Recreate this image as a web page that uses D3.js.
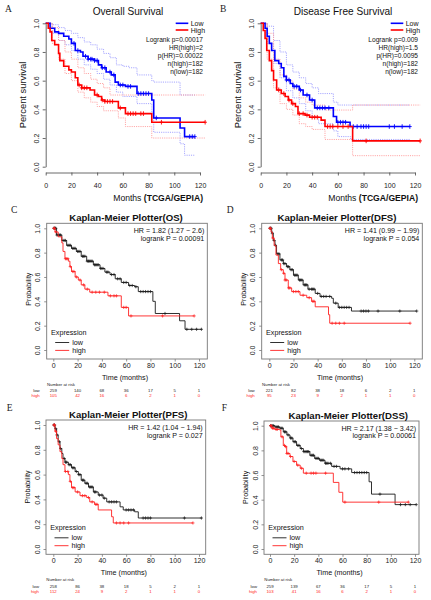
<!DOCTYPE html>
<html><head><meta charset="utf-8">
<script src="https://cdn.jsdelivr.net/npm/d3@7"></script>
<style>body{margin:0;background:#fff}svg{display:block;font-family:"Liberation Sans",Arial,sans-serif}</style>
</head><body><svg id="c" width="431" height="600"></svg>
<script>
// ---------- shared tick labels ----------
const monthTicks = [0, 20, 40, 60, 80, 100, 120];
const probTicks = [0, 0.2, 0.4, 0.6, 0.8, 1.0];

// ---------- A: GEPIA Overall Survival ----------
const osLowT = [0, 3.4, 7, 10, 14, 18, 20, 23, 27, 29, 33, 38, 41, 43.5, 47, 51, 54, 56.5, 62, 71, 82.5, 84, 104.5, 108, 116];
const osLowS = [1, 0.965, 0.94, 0.93, 0.91, 0.89, 0.86, 0.81, 0.80, 0.77, 0.75, 0.74, 0.71, 0.69, 0.66, 0.64, 0.59, 0.57, 0.56, 0.51, 0.465, 0.34, 0.27, 0.21, 0.21];
const osLowCens = [22, 25, 31, 33, 35, 36, 38, 40, 44, 46, 50, 53, 58, 60, 64, 66, 72, 74, 76, 78, 80, 86, 112, 114, 116];
const osHighT = [0, 2, 3.4, 4.7, 7, 10, 11, 14, 18, 20, 23, 25, 28, 34.5, 38, 41, 43.5, 46, 56.5, 62, 82.5, 124];
const osHighS = [1, 0.965, 0.94, 0.88, 0.85, 0.79, 0.74, 0.70, 0.675, 0.66, 0.62, 0.57, 0.55, 0.535, 0.50, 0.49, 0.465, 0.455, 0.41, 0.37, 0.31, 0.31];
const osHighCens = [26, 28, 30, 32, 40, 44, 46, 48, 50, 52, 58, 64, 66, 68, 70, 74, 76, 90, 124];
const osLowUpT = [0, 5, 10, 15, 20, 25, 30, 35, 40, 45, 50, 55, 60, 65, 71, 82.5, 84, 104.5, 116];
const osLowUpS = [1, 0.99, 0.97, 0.95, 0.93, 0.90, 0.87, 0.85, 0.82, 0.79, 0.76, 0.71, 0.70, 0.69, 0.64, 0.60, 0.59, 0.50, 0.50];
const osLowLoT = [0, 5, 10, 15, 20, 25, 30, 35, 40, 45, 50, 55, 60, 71, 82.5, 84, 104.5, 108, 116];
const osLowLoS = [1, 0.93, 0.88, 0.85, 0.81, 0.75, 0.71, 0.68, 0.65, 0.61, 0.57, 0.52, 0.49, 0.44, 0.38, 0.24, 0.16, 0.08, 0.08];
const osHighUpT = [0, 5, 10, 15, 20, 25, 30, 35, 40, 45, 50, 124];
const osHighUpS = [1, 0.97, 0.88, 0.80, 0.75, 0.69, 0.65, 0.61, 0.58, 0.55, 0.50, 0.50];
const osHighLoT = [0, 5, 10, 15, 20, 25, 30, 35, 40, 45, 56.5, 62, 82.5, 124];
const osHighLoS = [1, 0.86, 0.75, 0.65, 0.60, 0.52, 0.48, 0.45, 0.42, 0.39, 0.34, 0.28, 0.20, 0.20];

// ---------- B: GEPIA Disease Free Survival ----------
const dfsLowT = [0, 3.4, 5, 6.7, 8.5, 11, 14, 16, 18, 20, 23, 25, 30, 33, 38, 42, 56.5, 59, 69.5, 116];
const dfsLowS = [1, 0.965, 0.91, 0.86, 0.81, 0.74, 0.72, 0.69, 0.63, 0.605, 0.58, 0.56, 0.535, 0.50, 0.465, 0.41, 0.35, 0.31, 0.28, 0.28];
const dfsLowCens = [20, 22, 26, 28, 31, 36, 40, 44, 46, 48, 50, 53, 60, 62, 64, 66, 72, 75, 78, 80, 82, 84, 100, 104, 110, 116];
const dfsHighT = [0, 2, 3.4, 4.7, 6.7, 8.5, 10, 12.4, 16, 19, 21.5, 24, 27, 29, 34.5, 38, 47, 50, 71.5, 124];
const dfsHighS = [1, 0.95, 0.895, 0.81, 0.74, 0.67, 0.605, 0.535, 0.51, 0.49, 0.465, 0.44, 0.42, 0.37, 0.36, 0.345, 0.325, 0.28, 0.18, 0.18];
const dfsHighCens = [14, 18, 22, 25, 30, 33, 36, 40, 42, 44, 52, 54, 56, 60, 64, 68, 82, 124];
const dfsLowUpT = [0, 5, 10, 15, 20, 25, 30, 35, 40, 45, 56.5, 60, 70, 116];
const dfsLowUpS = [1, 0.98, 0.88, 0.80, 0.71, 0.66, 0.62, 0.58, 0.55, 0.51, 0.45, 0.43, 0.43, 0.43];
const dfsLowLoT = [0, 5, 10, 15, 20, 25, 30, 35, 40, 45, 56.5, 60, 70, 116];
const dfsLowLoS = [1, 0.86, 0.72, 0.62, 0.53, 0.48, 0.44, 0.39, 0.35, 0.30, 0.25, 0.21, 0.19, 0.19];
const dfsHighUpT = [0, 5, 10, 15, 20, 25, 30, 35, 40, 50, 71.5, 124];
const dfsHighUpS = [1, 0.93, 0.75, 0.64, 0.60, 0.54, 0.48, 0.45, 0.43, 0.395, 0.43, 0.43];
const dfsHighLoT = [0, 5, 10, 15, 20, 25, 30, 35, 40, 50, 71.5, 124];
const dfsHighLoS = [1, 0.75, 0.55, 0.44, 0.40, 0.36, 0.30, 0.28, 0.26, 0.19, 0.077, 0.077];

// ---------- C: KM Plotter OS ----------
const kmOsLowT = [0, 2.7, 7, 11, 15, 19, 23, 27.5, 33, 38.5, 42.5, 46.7, 51, 56, 62, 67, 70, 82, 84, 104, 108.5, 122];
const kmOsLowS = [1, 0.945, 0.90, 0.86, 0.835, 0.81, 0.77, 0.73, 0.70, 0.67, 0.64, 0.62, 0.585, 0.555, 0.53, 0.52, 0.48, 0.40, 0.30, 0.24, 0.17, 0.17];
const kmOsLowCens = [0.5, 1, 1.5, 2, 3, 4, 5, 6, 8, 9, 10, 12, 13, 14, 16, 17, 18, 20, 21, 22, 24, 25, 26, 28, 29, 30, 31, 32, 34, 35, 36, 37, 39, 40, 41, 44, 45, 48, 50, 53, 55, 58, 60, 63, 65, 68, 72, 74, 76, 78, 80, 92, 110, 114, 118, 122];
const kmOsHighT = [0, 1.4, 4, 7, 8, 9.6, 12.4, 13.7, 15, 18, 20.6, 23, 26, 30, 45, 56, 62, 116];
const kmOsHighS = [1, 0.97, 0.93, 0.88, 0.81, 0.75, 0.73, 0.685, 0.645, 0.60, 0.575, 0.535, 0.50, 0.475, 0.445, 0.35, 0.28, 0.28];
const kmOsHighCens = [0.5, 1, 2, 10, 11, 12, 14, 16, 17, 19, 22, 25, 28, 32, 35, 38, 42, 47, 50, 52, 58, 60, 64, 90, 116];
const riskOsLow = [259, 140, 68, 36, 17, 5, 1];
const riskOsHigh = [105, 42, 16, 6, 2, 1, 0];

// ---------- D: KM Plotter DFS ----------
const kmDfsLowT = [0, 2, 3.3, 4.7, 6, 8.8, 11.6, 14.3, 17, 20, 24, 28, 32, 38, 42, 51.6, 53, 57, 68, 122];
const kmDfsLowS = [1, 0.96, 0.90, 0.86, 0.79, 0.74, 0.71, 0.685, 0.66, 0.615, 0.575, 0.535, 0.50, 0.465, 0.44, 0.425, 0.385, 0.35, 0.32, 0.32];
const kmDfsLowCens = [0.5, 1, 1.5, 2.5, 4, 5, 7, 8, 10, 11, 12, 13, 15, 16, 18, 19, 21, 22, 23, 25, 26, 27, 29, 30, 31, 33, 35, 36, 37, 40, 43, 45, 47, 50, 55, 58, 60, 62, 64, 66, 76, 78, 80, 82, 90, 108, 122];
const kmDfsHighT = [0, 1.4, 2.5, 4, 5.5, 7.5, 9.4, 11.6, 13, 15.7, 18.5, 25.4, 31, 35, 38, 49, 50, 116.5];
const kmDfsHighS = [1, 0.97, 0.92, 0.86, 0.78, 0.71, 0.66, 0.63, 0.575, 0.51, 0.48, 0.45, 0.43, 0.40, 0.355, 0.29, 0.22, 0.22];
const kmDfsHighCens = [0.5, 1, 3, 10, 12, 13, 14, 16, 17, 20, 22, 24, 28, 33, 36, 37, 52, 55, 58, 62, 116.5];
const riskDfsLow = [221, 82, 38, 18, 6, 2, 1];
const riskDfsHigh = [95, 23, 9, 2, 1, 1, 0];

// ---------- E: KM Plotter PFS ----------
const kmPfsLowT = [0, 1.4, 2.7, 4, 5.5, 7, 8, 9.6, 12.4, 15, 18, 20.6, 23, 26, 29, 33, 37, 41, 44, 55, 57.6, 67, 70, 122];
const kmPfsLowS = [1, 0.97, 0.92, 0.865, 0.81, 0.77, 0.73, 0.70, 0.68, 0.655, 0.625, 0.60, 0.555, 0.53, 0.50, 0.46, 0.435, 0.41, 0.38, 0.34, 0.315, 0.30, 0.25, 0.25];
const kmPfsLowCens = [0.5, 1, 2, 3, 5, 6, 9, 10, 11, 13, 14, 16, 17, 19, 21, 22, 24, 25, 27, 28, 30, 31, 32, 34, 35, 38, 40, 42, 46, 48, 50, 52, 60, 62, 64, 66, 74, 76, 78, 80, 108, 122];
const kmPfsHighT = [0, 1.4, 2.7, 4, 5.5, 7, 8, 9.6, 12.4, 13.7, 15, 18, 22, 27.5, 30, 34, 37, 48, 49.4, 115];
const kmPfsHighS = [1, 0.95, 0.89, 0.84, 0.785, 0.73, 0.68, 0.625, 0.60, 0.545, 0.495, 0.46, 0.43, 0.415, 0.38, 0.36, 0.315, 0.26, 0.21, 0.21];
const kmPfsHighCens = [0.5, 1, 2, 10, 12, 14, 16, 17, 20, 24, 26, 29, 32, 35, 36, 52, 55, 58, 62, 115];
const riskPfsLow = [258, 86, 38, 18, 5, 2, 1];
const riskPfsHigh = [112, 24, 9, 2, 1, 1, 0];

// ---------- F: KM Plotter DSS ----------
const kmDssLowT = [0, 4, 8, 11, 14, 16.5, 19, 22, 25, 27.6, 33, 37, 41, 45.5, 51, 58, 67.6, 82, 84, 103.5, 121];
const kmDssLowS = [1, 0.99, 0.98, 0.95, 0.925, 0.90, 0.87, 0.84, 0.815, 0.79, 0.76, 0.735, 0.72, 0.695, 0.67, 0.65, 0.62, 0.545, 0.445, 0.36, 0.36];
const kmDssLowCens = [0.5, 1, 2, 3, 5, 6, 7, 9, 10, 12, 13, 15, 17, 18, 20, 21, 23, 24, 26, 28, 29, 30, 31, 32, 34, 35, 36, 38, 39, 40, 42, 43, 44, 46, 47, 48, 50, 53, 55, 60, 62, 65, 70, 72, 74, 76, 78, 80, 91, 108, 112, 116, 121];
const kmDssHighT = [0, 1.4, 4, 8, 9, 11, 12.4, 13.8, 16.5, 19, 22, 25, 27.6, 52.4, 57, 60.2, 114.5];
const kmDssHighS = [1, 0.98, 0.97, 0.965, 0.91, 0.84, 0.83, 0.775, 0.75, 0.71, 0.68, 0.655, 0.615, 0.54, 0.46, 0.38, 0.38];
const kmDssHighCens = [0.5, 1, 2, 3, 5, 6, 10, 12, 13, 14, 15, 17, 20, 23, 26, 30, 34, 36, 38, 46, 62, 90, 114.5];
const riskDssLow = [259, 139, 67, 36, 17, 5, 1];
const riskDssHigh = [103, 41, 16, 6, 2, 1, 0];

// ---------- drawing ----------
const svg = d3.select("#c");
const BLUE = "#0000ff", RED = "#ff0000";

function survAt(t, s, time) {
  let v = s[0];
  for (let i = 0; i < t.length; i++) if (t[i] <= time) v = s[i];
  return v;
}

function panelLetter(ch, x, y) {
  svg.append("text").attr("x", x).attr("y", y).text(ch)
    .attr("font-family", "'Liberation Serif','DejaVu Serif',serif").attr("font-size", 9.5).attr("fill", "#222");
}

function gepia(p) {
  const g = svg.append("g");
  const x = d3.scaleLinear().domain([0, 120]).range([p.x0, p.x1]);
  const y = d3.scaleLinear().domain([0, 1]).range([p.y0, p.y1]);
  const line = d3.line().x(d => x(d[0])).y(d => y(d[1])).curve(d3.curveStepAfter);
  p.bands.forEach(b => g.append("path").attr("d", line(d3.zip(b[0], b[1])))
    .attr("fill", "none").attr("stroke", b[2]).attr("stroke-width", 0.9).attr("stroke-dasharray", "1.1,1.1"));
  p.curves.forEach(c => {
    g.append("path").attr("d", line(d3.zip(c.t, c.s))).attr("fill", "none").attr("stroke", c.color).attr("stroke-width", 1.6);
    g.append("path").attr("d", c.cens.map(ct => {
      const px = x(ct), py = y(survAt(c.t, c.s, ct));
      return `M${px},${py - 2.3}v4.6M${px - 1.8},${py}h3.6`;
    }).join("")).attr("fill", "none").attr("stroke", c.color).attr("stroke-width", 0.9);
  });
  // axes
  const ya = g.append("g").attr("transform", `translate(${p.x0},0)`)
    .call(d3.axisLeft(y).tickValues(probTicks).tickSize(3).tickSizeOuter(0).tickFormat(d3.format(".1f")));
  ya.selectAll("text").attr("x", null).attr("dy", null).attr("text-anchor", "middle")
    .attr("transform", "translate(-6.7,0) rotate(-90)");
  const xa = g.append("g").attr("transform", `translate(0,${p.axY})`)
    .call(d3.axisBottom(x).tickValues(monthTicks).tickSize(3).tickSizeOuter(0));
  xa.selectAll("text").attr("dy", null).attr("y", 15);
  [ya, xa].forEach(a => {
    a.attr("font-family", null).attr("font-size", 7);
    a.selectAll(".domain,.tick line").attr("stroke", "#444").attr("stroke-width", 0.8);
    a.selectAll("text").attr("fill", "#222");
  });
  g.append("text").attr("x", p.titleX).attr("y", 15).attr("text-anchor", "middle")
    .attr("font-size", 10.1).attr("fill", "#111").text(p.title);
  g.append("text").attr("transform", `translate(${p.x0 - 20.2},95) rotate(-90)`).attr("text-anchor", "middle")
    .attr("font-size", 9.4).attr("fill", "#111").text("Percent survival");
  const xl = g.append("text").attr("x", p.x1 + 3).attr("y", 201).attr("text-anchor", "end").attr("font-size", 8.6).attr("fill", "#111");
  xl.append("tspan").text("Months  ");
  xl.append("tspan").attr("font-weight", "bold").text("(TCGA/GEPIA)");
  // legend
  const leg = [["Low", BLUE, 23.3], ["High", RED, 30]];
  leg.forEach(l => {
    g.append("line").attr("x1", p.x1 - 24.3).attr("x2", p.x1 - 11.7).attr("y1", l[2]).attr("y2", l[2])
      .attr("stroke", l[1]).attr("stroke-width", 1.6);
    g.append("text").attr("x", p.x1 - 9.3).attr("y", l[2] + 2.6).attr("font-size", 7).attr("fill", "#111").text(l[0]);
  });
  p.stats.forEach((s, i) => g.append("text").attr("x", p.x1 + 3).attr("y", 42 + 7.9 * i).attr("text-anchor", "end")
    .attr("font-size", 6.6).attr("fill", "#111").text(s));
}

function km(p) {
  const g = svg.append("g");
  const x = d3.scaleLinear().domain([0, 120]).range([p.x0, p.x1]);
  const y = d3.scaleLinear().domain([0, 1]).range([p.y0, p.y1]);
  const line = d3.line().x(d => x(d[0])).y(d => y(d[1])).curve(d3.curveStepAfter);
  const cols = { low: "#1a1a1a", high: "#ff2020" };
  [["low", p.low], ["high", p.high]].forEach(([k, c]) => {
    g.append("path").attr("d", line(d3.zip(c[0], c[1]))).attr("fill", "none").attr("stroke", cols[k]).attr("stroke-width", 0.9);
    g.append("path").attr("d", c[2].map(ct => {
      const px = x(ct), py = y(survAt(c[0], c[1], ct));
      return `M${px},${py - 1.6}v3.2M${px - 1.6},${py}h3.2`;
    }).join("")).attr("fill", "none").attr("stroke", cols[k]).attr("stroke-width", 0.7);
  });
  g.append("rect").attr("x", p.bx0).attr("y", p.by0).attr("width", p.bx1 - p.bx0).attr("height", p.by1 - p.by0)
    .attr("fill", "none").attr("stroke", "#777").attr("stroke-width", 0.9);
  const ya = g.append("g").attr("transform", `translate(${p.bx0},0)`)
    .call(d3.axisLeft(y).tickValues(probTicks).tickSize(2.5).tickFormat(d3.format(".1f")));
  ya.selectAll("text").attr("x", null).attr("dy", null).attr("text-anchor", "middle")
    .attr("transform", "translate(-6.4,0) rotate(-90)");
  const xa = g.append("g").attr("transform", `translate(0,${p.by1})`)
    .call(d3.axisBottom(x).tickValues(monthTicks).tickSize(2.5));
  xa.selectAll("text").attr("dy", null).attr("y", 8.8);
  [ya, xa].forEach(a => {
    a.attr("font-family", null).attr("font-size", 7);
    a.select(".domain").remove();
    a.selectAll(".tick line").attr("stroke", "#777").attr("stroke-width", 0.8);
    a.selectAll("text").attr("fill", "#222");
  });
  g.append("text").attr("x", p.titleX).attr("y", p.by0 - 2.5).attr("text-anchor", "middle")
    .attr("font-size", 9.6).attr("font-weight", "bold").attr("fill", "#111").text(p.title);
  g.append("text").attr("x", p.bx1 - 3).attr("y", p.y1 + 4.8).attr("text-anchor", "end").attr("font-size", 7.1).attr("fill", "#111").text(p.hr);
  g.append("text").attr("x", p.bx1 - 3).attr("y", p.y1 + 12.6).attr("text-anchor", "end").attr("font-size", 7.1).attr("fill", "#111").text(p.lr);
  g.append("text").attr("transform", `translate(${p.bx0 - 16},${(p.y0 + p.y1) / 2}) rotate(-90)`).attr("text-anchor", "middle")
    .attr("font-size", 7.1).attr("fill", "#111").text("Probability");
  g.append("text").attr("x", (p.bx0 + p.bx1) / 2 - 2).attr("y", p.by1 + 20.8).attr("text-anchor", "middle")
    .attr("font-size", 7.2).attr("fill", "#111").text("Time (months)");
  // legend
  g.append("text").attr("x", p.bx0 + 4.3).attr("y", p.by1 - 24.5).attr("font-size", 7.2).attr("fill", "#111").text("Expression");
  [["low", cols.low, 16.5], ["high", cols.high, 8.6]].forEach(l => {
    g.append("line").attr("x1", p.bx0 + 8.5).attr("x2", p.bx0 + 22.5).attr("y1", p.by1 - l[2]).attr("y2", p.by1 - l[2])
      .attr("stroke", l[1]).attr("stroke-width", 0.9);
    g.append("text").attr("x", p.bx0 + 25.5).attr("y", p.by1 - l[2] + 2.5).attr("font-size", 7.2).attr("fill", "#111").text(l[0]);
  });
  // number at risk
  g.append("text").attr("x", p.bx0 + 0.3).attr("y", p.by1 + 26.8).attr("font-size", 4.3).attr("fill", "#222").text("Number at risk");
  [["low", p.riskLow, "#222", 33.2], ["high", p.riskHigh, "#ff2020", 38.4]].forEach(r => {
    g.append("text").attr("x", p.bx0 - 7).attr("y", p.by1 + r[3]).attr("text-anchor", "end").attr("font-size", 4.3).attr("fill", r[2]).text(r[0]);
    g.selectAll(null).data(r[1]).enter().append("text")
      .attr("x", (d, i) => x(monthTicks[i])).attr("y", p.by1 + r[3]).attr("text-anchor", "middle")
      .attr("font-size", 4.3).attr("fill", r[2]).text(d => d);
  });
}

gepia({ x0: 45.7, x1: 200, y0: 166.7, y1: 23.3, axY: 172.5, titleX: 128, title: "Overall Survival",
  bands: [[osLowUpT, osLowUpS, "#9a9aff"], [osLowLoT, osLowLoS, "#9a9aff"], [osHighUpT, osHighUpS, "#ff9a9a"], [osHighLoT, osHighLoS, "#ff9a9a"]],
  curves: [{ t: osLowT, s: osLowS, cens: osLowCens, color: BLUE }, { t: osHighT, s: osHighS, cens: osHighCens, color: RED }],
  stats: ["Logrank p=0.00017", "HR(high)=2", "p(HR)=0.00022", "n(high)=182", "n(low)=182"] });
gepia({ x0: 260.7, x1: 415, y0: 166.7, y1: 23.3, axY: 172.5, titleX: 343, title: "Disease Free Survival",
  bands: [[dfsLowUpT, dfsLowUpS, "#9a9aff"], [dfsLowLoT, dfsLowLoS, "#9a9aff"], [dfsHighUpT, dfsHighUpS, "#ff9a9a"], [dfsHighLoT, dfsHighLoS, "#ff9a9a"]],
  curves: [{ t: dfsLowT, s: dfsLowS, cens: dfsLowCens, color: BLUE }, { t: dfsHighT, s: dfsHighS, cens: dfsHighCens, color: RED }],
  stats: ["Logrank p=0.009", "HR(high)=1.5", "p(HR)=0.0095", "n(high)=182", "n(low)=182"] });

km({ bx0: 46.7, bx1: 207.3, by0: 223.3, by1: 359, x0: 53.3, x1: 199, y0: 350, y1: 228.3, titleX: 126,
  title: "Kaplan-Meier Plotter(OS)", hr: "HR = 1.82 (1.27 − 2.6)", lr: "logrank P = 0.00091",
  low: [kmOsLowT, kmOsLowS, kmOsLowCens], high: [kmOsHighT, kmOsHighS, kmOsHighCens], riskLow: riskOsLow, riskHigh: riskOsHigh });
km({ bx0: 261.7, bx1: 422.3, by0: 223.3, by1: 359, x0: 269.3, x1: 414.3, y0: 350, y1: 228.3, titleX: 337,
  title: "Kaplan-Meier Plotter(DFS)", hr: "HR = 1.41 (0.99 − 1.99)", lr: "logrank P = 0.054",
  low: [kmDfsLowT, kmDfsLowS, kmDfsLowCens], high: [kmDfsHighT, kmDfsHighS, kmDfsHighCens], riskLow: riskDfsLow, riskHigh: riskDfsHigh });
km({ bx0: 46, bx1: 205.7, by0: 420, by1: 554.3, x0: 53.3, x1: 199, y0: 549, y1: 425, titleX: 128.2,
  title: "Kaplan-Meier Plotter(PFS)", hr: "HR = 1.42 (1.04 − 1.94)", lr: "logrank P = 0.027",
  low: [kmPfsLowT, kmPfsLowS, kmPfsLowCens], high: [kmPfsHighT, kmPfsHighS, kmPfsHighCens], riskLow: riskPfsLow, riskHigh: riskPfsHigh });
km({ bx0: 264, bx1: 419, by0: 421, by1: 554.3, x0: 270, x1: 415, y0: 549, y1: 425.7, titleX: 348.3,
  title: "Kaplan-Meier Plotter(DSS)", hr: "HR = 2.17 (1.38 − 3.42)", lr: "logrank P = 0.00061",
  low: [kmDssLowT, kmDssLowS, kmDssLowCens], high: [kmDssHighT, kmDssHighS, kmDssHighCens], riskLow: riskDssLow, riskHigh: riskDssHigh });

panelLetter("A", 5, 11.7);
panelLetter("B", 220, 11.7);
panelLetter("C", 11, 213.3);
panelLetter("D", 226.7, 213.3);
panelLetter("E", 6.7, 410.7);
panelLetter("F", 221.7, 410.7);
</script></body></html>
